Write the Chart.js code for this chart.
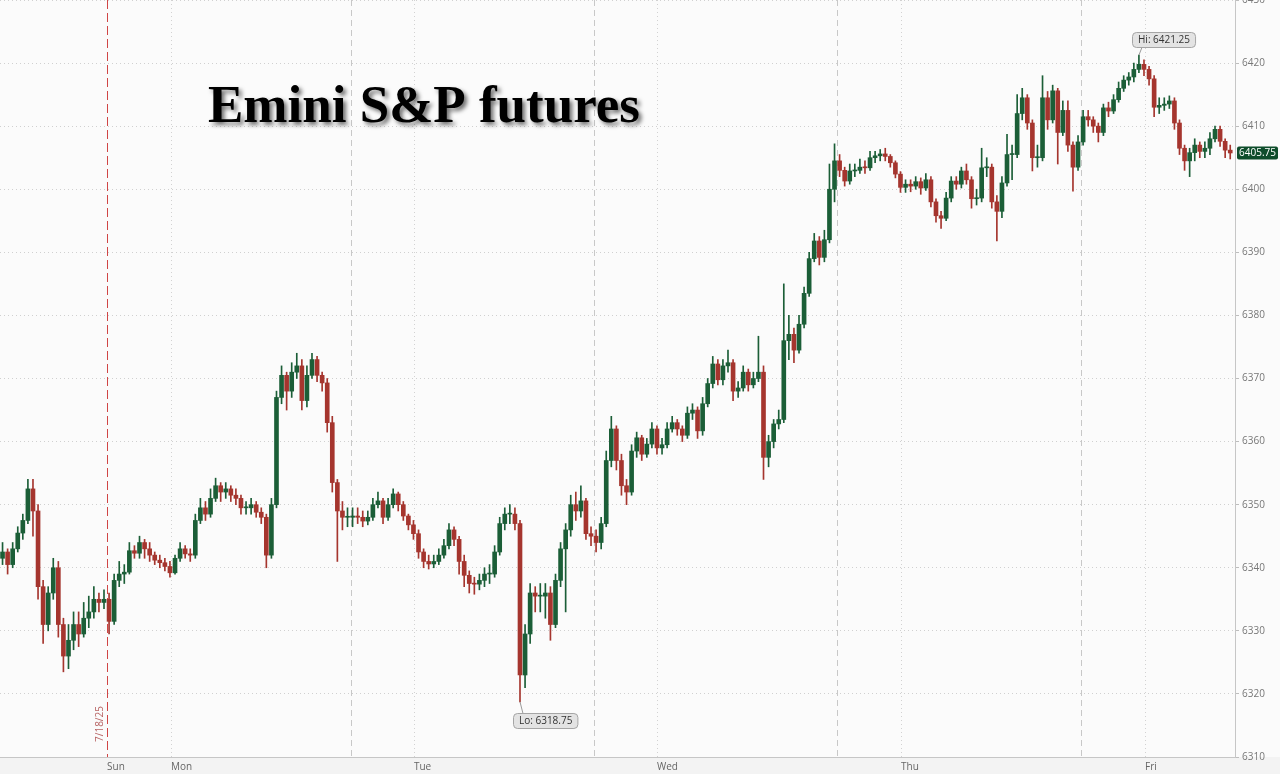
<!DOCTYPE html>
<html><head><meta charset="utf-8">
<script src="https://cdn.jsdelivr.net/npm/chart.js@4.4.1/dist/chart.umd.min.js"></script>
<style>html,body{margin:0;padding:0;background:#fbfbfb;}canvas{display:block;}</style>
</head><body>
<canvas id="c" width="1280" height="774"></canvas>
<script>
// 30-min candles, x in trading hours from the left edge
const firstOpen=6341.5;
const closes=[
6342.5,6340.5,6343,6345.5,6347.5,6352.5,6349,6337,6331,6336,
6340,6331,6326,6328.5,6331,6329.5,6332,6333,6335,6334.5,
6335,6331.5,6338,6339,6339.3,6342.7,6342.3,6344,6343,6342,
6341.2,6340.8,6340.2,6339.2,6341.5,6343,6342.2,6342,6347.5,6349.5,
6348.5,6351,6353,6352,6352.5,6351.5,6351,6349.5,6349.5,6350,
6348.8,6348,6342,6350,6367,6370.5,6368,6371,6372,6366.5,
6370.5,6373,6370.5,6369.3,6363,6353.5,6349,6348,6348,6348.2,
6348,6347.4,6348,6350,6350.6,6348,6350,6351.7,6350,6348.2,
6346.8,6345.4,6342.5,6341,6340.6,6341,6342,6343.5,6346,6344.5,
6341,6338.8,6337.5,6337.4,6338,6339,6339,6342.5,6347,6348.5,
6348.5,6347,6323,6329.5,6336,6335.5,6335.5,6336,6331,6338,
6343,6346,6350,6349,6350.6,6345.4,6345,6344,6347,6357,
6362,6357,6353,6352,6358.5,6360.6,6358,6359.6,6362,6359,
6359.5,6362,6363,6362,6361,6364.5,6365,6361.7,6366,6369.2,
6372.3,6369.8,6372,6372.5,6368,6368.5,6371,6369,6370,6371,
6357.5,6360,6362.8,6363.5,6376,6377,6374.5,6378.6,6383.5,6389,
6391.8,6389.2,6392,6400,6404.5,6403,6401.3,6402.9,6403,6403.5,
6403.4,6405,6405.3,6405.6,6405.2,6404.2,6402.4,6400.3,6400.8,6400.5,
6401.2,6400.2,6401.5,6398,6395.8,6395.4,6398.6,6401.3,6400.8,6402.9,
6401.5,6398.5,6398.6,6403.4,6403.5,6398,6396.5,6401,6405.5,6405.5,
6412,6414.5,6410.5,6405,6405,6414.5,6411,6415.6,6409,6412.5,
6407,6403.5,6407.5,6411.5,6411,6410,6409,6412.9,6412.4,6414.2,
6416,6417.3,6417.8,6419,6419.8,6419,6417.5,6413,6413.3,6413.5,
6414,6410.5,6406.5,6404.5,6405.8,6407,6406,6406.5,6408,6409.5,
6407.6,6406.2,6405.75];
const highs=[
6344,6343,6344,6346.5,6348.5,6354,6354,6350,6338,6337,
6341.5,6341,6332,6331,6333,6333,6334.5,6335.5,6337,6336,
6336.5,6336,6339,6341,6340.5,6344,6343.5,6345,6344.5,6344,
6342.5,6342,6341.5,6341,6342,6344,6343.5,6343,6348.5,6351,
6350.5,6352.5,6354.2,6353.5,6353.5,6353,6352.5,6351.5,6350.5,6351,
6350.5,6349.5,6348.5,6351,6368,6372,6371,6372.5,6374,6373,
6372,6374,6373.5,6371,6370,6364,6354,6350.5,6349.5,6349.5,
6349.5,6349,6349,6351,6352,6351,6351,6352.5,6352,6350.5,
6348.5,6347.5,6346,6343,6342,6342,6343,6344.5,6347,6346.5,
6345,6342,6339.5,6338.5,6339,6340,6340.5,6343.5,6348,6349.5,
6350,6349.5,6347.5,6331,6337.5,6337,6337.5,6337.5,6337,6339,
6344,6347,6351.5,6352,6353,6351,6346.5,6346,6348,6358.5,
6364,6362.5,6358,6354,6359.5,6361.5,6361,6360.5,6363,6362.5,
6360.5,6363,6364,6363.5,6362.5,6365.5,6366,6365.5,6367,6370,
6373.5,6373,6373,6374.5,6373,6369.5,6372,6371.5,6371,6376.7,
6372,6361,6363.5,6365,6385,6380,6378,6380,6384.5,6390,
6393,6392.5,6393.5,6404,6407.2,6405.5,6403.5,6404,6404,6404.8,
6404.5,6406,6406,6406.3,6406.5,6405.5,6404.5,6402.8,6401.5,6401.5,
6402,6401.8,6402.5,6402,6398.5,6396.5,6399.5,6402,6402,6403.5,
6404,6402,6400,6406.5,6405,6404,6399,6402,6408.7,6407,
6415,6416,6415,6411,6407,6418,6415.5,6416.5,6416,6414,
6414,6407.5,6408.5,6412.5,6412.5,6411.5,6410.5,6413.5,6413.8,6415,
6417,6418,6418.5,6420,6421.25,6420.5,6419.5,6418,6414.5,6414.5,
6414.8,6414.5,6411,6407,6406.5,6408,6407.5,6407.5,6409,6410,
6410,6408,6407];
const lows=[
6340.5,6339,6340,6342.5,6344.5,6347,6345,6335,6328,6330,
6335,6329,6323.5,6324,6327,6327.5,6329,6330.5,6332,6333,
6333.5,6329.5,6331,6337,6337.5,6339,6341.5,6341.5,6341.5,6341,
6340.5,6340,6339.5,6338.5,6339,6341,6341.5,6341,6341.5,6347,
6347.5,6348,6350.5,6350.5,6351,6350.5,6350,6348.5,6348.5,6348.5,
6348,6347,6340,6341.5,6349.5,6366,6365,6367,6370,6365,
6365.5,6370,6369.5,6368,6361.5,6352,6341,6346,6346.5,6346.5,
6347,6346.5,6346.8,6347.5,6349.5,6347,6347.5,6349.5,6349,6347.5,
6346,6344.5,6341.5,6340,6339.8,6340,6340.5,6341.5,6343,6343.5,
6339,6337,6336,6335.8,6336.5,6337,6337.5,6338.5,6342,6346,
6347,6346,6318.75,6321,6328,6333,6333,6332,6328.5,6330.5,
6337,6333,6345,6347.5,6348,6344.5,6343.5,6342.5,6343,6346.5,
6356,6355.5,6351.5,6350,6351.5,6357.5,6357,6357.5,6359,6358,
6358,6359,6361.5,6361,6360,6360.5,6363.5,6360.5,6361,6365.5,
6368.5,6369,6369,6371,6366.5,6367,6368,6368,6368.5,6369.5,
6354,6356,6359,6362,6363,6373,6372.5,6374,6378,6383,
6388.5,6388,6388.5,6391.5,6398,6402,6400.5,6400.8,6402,6402.5,
6402.5,6403,6404.2,6404.5,6404.5,6403.5,6401.8,6399.5,6399.5,6399.6,
6400,6399.2,6399.8,6397.2,6394.8,6393.8,6395,6398,6400,6400.2,
6400.8,6397,6397.5,6398,6402,6397,6391.8,6395.5,6400.5,6401.5,
6405,6411,6409.5,6402.9,6403.5,6404.5,6409.5,6410.5,6404,6408.5,
6406,6399.7,6403,6407,6410,6409,6407.5,6408.5,6411.5,6412,
6413.8,6415.5,6416.5,6417,6418.5,6418,6416.5,6411.5,6412,6412.5,
6412.8,6409.5,6405.5,6403,6402,6404.5,6405,6405,6405.5,6407.5,
6406.8,6405,6404.8];
const dayLabels=['Sun','Mon','Tue','Wed','Thu','Fri'];
const dayPos=[10.55,16.85,40.8,64.75,88.8,112.85];
const sessionBreaks=[34.59,58.55,82.5,106.54];
const weekendLabel='7/18/25';
const xMax=121.72, yMin=6310, yMax=6430, yStep=10;
const titleText='Emini S&P futures';

const UP='#1b5e37', DOWN='#a5352e';
const opens=closes.map((c,i)=>i?closes[i-1]:firstOpen);
const times=closes.map((c,i)=>0.25+0.5*i);
const cols=closes.map((c,i)=>c>=opens[i]?UP:DOWN);
const wickData=times.map((t,i)=>({x:t,y:[lows[i],highs[i]]}));
const bodyData=times.map((t,i)=>({x:t,y:[opens[i],closes[i]]}));
const FONT='"Open Sans", "DejaVu Sans", sans-serif';

function rrect(ctx,x,y,w,h,r){
  ctx.beginPath();ctx.moveTo(x+r,y);ctx.lineTo(x+w-r,y);ctx.quadraticCurveTo(x+w,y,x+w,y+r);
  ctx.lineTo(x+w,y+h-r);ctx.quadraticCurveTo(x+w,y+h,x+w-r,y+h);ctx.lineTo(x+r,y+h);
  ctx.quadraticCurveTo(x,y+h,x,y+h-r);ctx.lineTo(x,y+r);ctx.quadraticCurveTo(x,y,x+r,y);ctx.closePath();
}
function vline(ctx,px,y0,y1){ctx.beginPath();ctx.moveTo(px,y0);ctx.lineTo(px,y1);ctx.stroke();}

const decor={
  id:'decor',
  beforeDraw(c){
    const {ctx,chartArea:a}=c;
    ctx.save();
    ctx.fillStyle='#fbfbfb';ctx.fillRect(0,0,c.width,c.height);
    ctx.fillStyle='#f3f3f3';ctx.fillRect(0,a.bottom,c.width,c.height-a.bottom);
    ctx.restore();
  },
  beforeDatasetsDraw(c){
    const {ctx,chartArea:a,scales:{x}}=c;
    ctx.save();ctx.lineWidth=1;
    dayPos.forEach((v,i)=>{
      if(i===0) return;
      const px=Math.round(x.getPixelForValue(v))+0.5;
      ctx.strokeStyle='#d2d2d2';ctx.setLineDash([1,3]);vline(ctx,px,a.top,a.bottom+3);
    });
    sessionBreaks.forEach(v=>{
      const px=Math.round(x.getPixelForValue(v))+0.5;
      ctx.strokeStyle='#c8c8c8';ctx.setLineDash([6,4]);vline(ctx,px,a.top,a.bottom);
    });
    // weekend marker (Friday's session ends here)
    const wx=Math.round(x.getPixelForValue(dayPos[0]))+0.5;
    ctx.strokeStyle='#d04545';ctx.setLineDash([9,4]);vline(ctx,wx,a.top,a.bottom);
    ctx.setLineDash([]);
    ctx.translate(wx-7,a.bottom-33);ctx.rotate(-Math.PI/2);
    ctx.fillStyle='#b86565';ctx.font='10px '+FONT;ctx.textAlign='center';ctx.textBaseline='middle';
    ctx.fillText(weekendLabel,0,0);
    ctx.restore();
  },
  afterDraw(c){
    const {ctx,chartArea:a,scales:{x,y}}=c;
    ctx.save();
    // hi / lo callouts
    let hi=0,lo=0;
    highs.forEach((v,i)=>{if(v>highs[hi])hi=i;});
    lows.forEach((v,i)=>{if(v<lows[lo])lo=i;});
    ctx.font='10px '+FONT;ctx.textBaseline='middle';ctx.textAlign='left';
    const callout=(txt,px,py,above)=>{
      const w=ctx.measureText(txt).width+11,h=15;
      const bx=Math.round(px)-6.5, by=above?Math.round(py)-8-h+0.5:Math.round(py)+11.5;
      ctx.strokeStyle='#9a9a9a';ctx.lineWidth=1;
      ctx.beginPath();ctx.moveTo(px,py);ctx.lineTo(px+3,above?by+h:by);ctx.stroke();
      rrect(ctx,bx,by,w,h,4);ctx.fillStyle='#e3e3e3';ctx.fill();ctx.strokeStyle='#a5a5a5';ctx.stroke();
      ctx.fillStyle='#333';ctx.fillText(txt,bx+5.5,by+h/2+0.5);
    };
    callout('Hi: '+highs[hi].toFixed(2),x.getPixelForValue(times[hi]),y.getPixelForValue(highs[hi]),true);
    callout('Lo: '+lows[lo].toFixed(2),x.getPixelForValue(times[lo]),y.getPixelForValue(lows[lo]),false);
    // last price tag
    const last=closes[closes.length-1];
    const ly=Math.round(y.getPixelForValue(last));
    rrect(ctx,a.right+2,ly-6.5,c.width-a.right-4,13,2);ctx.fillStyle='#0e4d2b';ctx.fill();
    ctx.fillStyle='#fff';ctx.textAlign='center';ctx.fillText(last.toFixed(2),(a.right+2+c.width-2)/2,ly+0.5);
    // title
    ctx.font='bold 53px "Liberation Serif", "DejaVu Serif", serif';
    ctx.textAlign='left';ctx.textBaseline='alphabetic';
    ctx.shadowColor='rgba(0,0,0,0.55)';ctx.shadowOffsetX=3;ctx.shadowOffsetY=3;ctx.shadowBlur=4;
    ctx.fillStyle='#000';ctx.fillText(titleText,208,122);
    ctx.restore();
  }
};

new Chart(document.getElementById('c'),{
  type:'bar',
  data:{datasets:[
    {data:bodyData,backgroundColor:cols,barThickness:4,minBarLength:1,grouped:false,order:1,borderWidth:0},
    {data:wickData,backgroundColor:cols,barThickness:1,grouped:false,order:2,borderWidth:0}
  ]},
  options:{
    responsive:false,animation:false,events:[],
    layout:{padding:0},
    plugins:{legend:{display:false},tooltip:{enabled:false}},
    scales:{
      x:{type:'linear',min:0,max:xMax,offset:false,
        grid:{display:false,drawTicks:false,offset:false},
        border:{display:true,color:'#c6c6c6'},
        afterBuildTicks:s=>{s.ticks=dayPos.map(v=>({value:v}));},
        ticks:{align:'start',padding:4,color:'#666',font:{family:'Open Sans',size:10},maxRotation:0,autoSkip:false,
          callback:(v,i)=>dayLabels[i]},
        afterFit:s=>{s.height=17;s.paddingLeft=0;s.paddingRight=0;}
      },
      y:{position:'right',min:yMin,max:yMax,
        ticks:{stepSize:yStep,padding:3,color:'#777',font:{family:'Open Sans',size:10},callback:v=>String(v)},
        grid:{color:'#d0d0d0',tickLength:4,tickColor:'#bdbdbd'},
        border:{display:true,color:'#c6c6c6',dash:[1,3]},
        afterFit:s=>{s.width=45;s.paddingTop=0;s.paddingBottom=0;}
      }
    }
  },
  plugins:[decor]
});
</script>
</body></html>
